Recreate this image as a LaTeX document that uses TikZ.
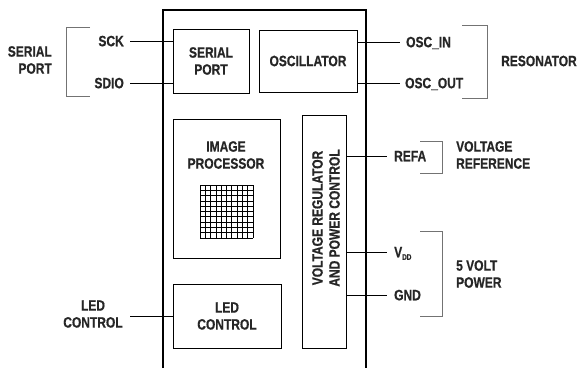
\documentclass[tikz,border=0pt]{standalone}
\usepackage{fontspec}
\newfontfamily\lbl{Liberation Sans}[FakeStretch=0.8, BoldFeatures={FakeBold=0.6}]
\begin{document}
\begin{tikzpicture}[x=1pt,y=-1pt,
  lab/.style={font=\lbl\bfseries\fontsize{15}{17}\selectfont, inner sep=0pt, text=black!85},
  one/.style={lab,text height=10.5pt,text depth=0pt},
  box/.style={draw,line width=0.9pt,inner sep=0pt},
  wire/.style={line width=0.8pt},
  brk/.style={draw=black!55,line width=0.9pt},
  chip/.style={line width=1.5pt}
]
\useasboundingbox (0,0) rectangle (579,368);

% chip outline
\draw[chip] (163,368) -- (163,10) -- (366,10) -- (366,368);

% internal blocks
\node[box,lab,align=center,minimum width=76pt,minimum height=64pt] (sp) at (211,61) {SERIAL\\PORT};
\node[box,lab,align=center,minimum width=98pt,minimum height=62pt] (osc) at (308,61) {OSCILLATOR};
\node[box,minimum width=107pt,minimum height=139pt] (ip) at (226.5,188.5) {};
\node[lab,align=center] (ipt) at (226,155) {IMAGE\\PROCESSOR};
\node[box,minimum width=44pt,minimum height=233pt] (vr) at (324,231.5) {};
\node[lab,align=center,rotate=90] (vrt) at (326,218) {VOLTAGE REGULATOR\\AND POWER CONTROL};
\node[box,lab,align=center,minimum width=108pt,minimum height=64pt] (led) at (227,316) {LED\\CONTROL};

% pixel grid
\foreach \i in {0,...,10} {
  \draw[line width=0.7pt] (200+5.3*\i,185) -- (200+5.3*\i,238);
  \draw[line width=0.7pt] (200,185+5.3*\i) -- (253,185+5.3*\i);
}

% pin labels
\node[one,anchor=east] (sck) at (124,41) {SCK};
\node[one,anchor=east] (sdio) at (124,83) {SDIO};
\node[one,anchor=west] (oscin) at (406,42) {OSC\_IN};
\node[one,anchor=west] (oscout) at (405,83) {OSC\_OUT};
\node[one,anchor=west] (refa) at (394,156) {REFA};
\node[one,anchor=west] (vdd) at (394,252) {V{\fontsize{8}{8}\selectfont\raisebox{-2.5pt}{DD}}};
\node[one,anchor=west] (gnd) at (394,295) {GND};

% wires
\draw[wire] ([xshift=6pt]sck.east) -- (sp.west |- sck.east);
\draw[wire] ([xshift=6pt]sdio.east) -- (sp.west |- sdio.east);
\draw[wire] (osc.east |- oscin.west) -- ([xshift=-6pt]oscin.west);
\draw[wire] (osc.east |- oscout.west) -- ([xshift=-5pt]oscout.west);
\draw[wire] (vr.east |- refa.west) -- ([xshift=-7pt]refa.west);
\draw[wire] (vr.east |- vdd.west) -- ([xshift=-7pt]vdd.west);
\draw[wire] (vr.east |- gnd.west) -- ([xshift=-7pt]gnd.west);
\coordinate (ledend) at (130,316);
\draw[wire] (ledend) -- (led.west);

% brackets
\draw[brk] (90,27) -- (66,27) -- (66,96) -- (90,96);
\draw[brk] (462,25) -- (487,25) -- (487,98) -- (462,98);
\draw[brk] (420,141) -- (442,141) -- (442,173) -- (420,173);
\draw[brk] (420,231) -- (442,231) -- (442,316) -- (420,316);

% group labels
\node[lab,align=right,anchor=east] (spl) at (52,60) {SERIAL\\PORT};
\node[lab,anchor=center] (res) at (539,61) {RESONATOR};
\node[lab,align=left,anchor=west] (vref) at (456,155) {VOLTAGE\\REFERENCE};
\node[lab,align=left,anchor=west] (pwr) at (456,274) {5 VOLT\\POWER};
\node[lab,align=center] (ledl) at (93,314) {LED\\CONTROL};
\end{tikzpicture}
\end{document}
